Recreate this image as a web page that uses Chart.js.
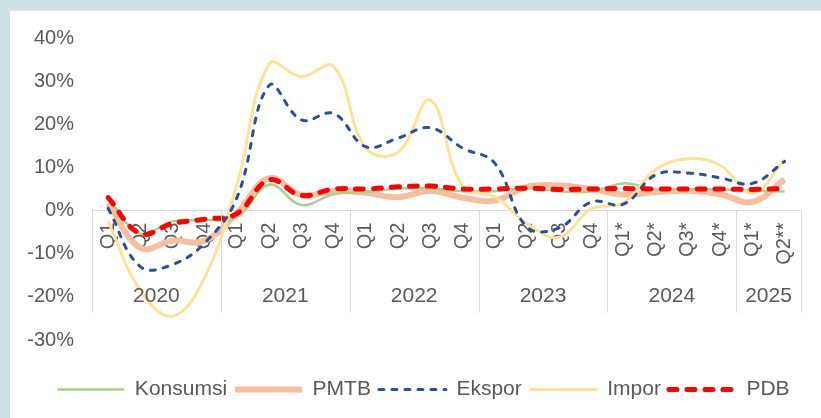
<!DOCTYPE html>
<html>
<head>
<meta charset="utf-8">
<script src="https://cdn.jsdelivr.net/npm/chart.js@4.4.1/dist/chart.umd.min.js"></script>
<style>
  html, body { margin: 0; padding: 0; }
  body { width: 821px; height: 418px; background: #cfe1e6; position: relative; overflow: hidden; }
  #panel { position: absolute; left: 10px; top: 10px; right: 0; bottom: 0; background: #fff; border-top: 1px solid #e2e6e8; }
  #chart { position: absolute; left: 0; top: 0; }
</style>
</head>
<body>
<div id="panel"></div>
<canvas id="chart" width="821" height="418"></canvas>
<script>
// quarter labels and the year groups under them
const quarters = ['Q1', 'Q2', 'Q3', 'Q4', 'Q1', 'Q2', 'Q3', 'Q4', 'Q1', 'Q2', 'Q3', 'Q4',
                  'Q1', 'Q2', 'Q3', 'Q4', 'Q1*', 'Q2*', 'Q3*', 'Q4*', 'Q1*', 'Q2**'];
const years = ['2020', '2021', '2022', '2023', '2024', '2025'];
const quartersPerYear = [4, 4, 4, 4, 4, 2];

// growth yoy (%)
const konsumsi = [2.8, -5.3, -2.5, -2.2, -1.5, 6.0, 1.3, 3.8, 4.3, 5.1, 5.2, 4.5,
                  4.5, 5.2, 4.5, 4.4, 6.3, 4.9, 4.9, 4.9, 4.6, 4.4];
const pmtb = [1.7, -8.6, -7.0, -7.0, -0.5, 7.5, 3.6, 4.5, 4.1, 3.1, 4.6, 3.0,
              2.3, 5.5, 5.8, 5.0, 3.7, 4.3, 4.6, 3.8, 2.0, 7.2];
const ekspor = [0.5, -13.0, -12.5, -7.5, 3.0, 29.0, 21.0, 22.5, 14.8, 16.8, 19.2, 14.5,
                11.0, -3.8, -4.0, 2.0, 1.5, 8.3, 8.7, 7.6, 6.3, 11.4];
const impor = [-2.5, -18.5, -24.5, -15.5, 6.0, 34.0, 31.0, 33.4, 14.5, 13.5, 25.6, 5.6,
               3.2, -3.0, -6.2, 0.4, 1.8, 9.5, 12.0, 10.5, 4.0, 11.8];
const pdb = [3.0, -5.3, -3.0, -2.0, -0.7, 7.1, 3.5, 5.0, 5.0, 5.5, 5.7, 5.0,
             5.0, 5.2, 4.9, 5.0, 5.1, 5.0, 5.0, 5.0, 4.9, 5.1];

const FONT = '"Liberation Sans", Arial, sans-serif';
const TEXT = '#595959';

// year labels + group dividers under the category axis
const yearGroups = {
    id: 'yearGroups',
    afterDraw(chart) {
        const ctx = chart.ctx;
        const xs = chart.scales.x;
        const y0 = chart.scales.y.getPixelForValue(0);
        const half = (xs.getPixelForValue(1) - xs.getPixelForValue(0)) / 2;
        ctx.save();
        ctx.strokeStyle = '#d9d9d9';
        ctx.lineWidth = 1;
        ctx.fillStyle = TEXT;
        ctx.font = '21px ' + FONT;
        ctx.textAlign = 'center';
        ctx.textBaseline = 'middle';
        let start = 0;
        years.forEach((yr, i) => {
            const n = quartersPerYear[i];
            const left = xs.getPixelForValue(start) - half;
            const right = xs.getPixelForValue(start + n - 1) + half;
            ctx.beginPath();
            ctx.moveTo(Math.round(left) + 0.5, y0);
            ctx.lineTo(Math.round(left) + 0.5, y0 + 102);
            if (i === years.length - 1) {
                ctx.moveTo(Math.round(right) + 0.5, y0);
                ctx.lineTo(Math.round(right) + 0.5, y0 + 102);
            }
            ctx.stroke();
            ctx.fillText(yr, (left + right) / 2, y0 + 86);
            start += n;
        });
        ctx.restore();
    }
};

function series(label, data, color, width, dash, cap, order) {
    return {
        label: label,
        data: data,
        borderColor: color,
        backgroundColor: color,
        borderWidth: width,
        borderDash: dash,
        borderCapStyle: cap,
        pointRadius: 0,
        tension: 0.4,
        fill: false,
        order: order
    };
}

new Chart(document.getElementById('chart'), {
    type: 'line',
    data: {
        labels: quarters,
        datasets: [
            series('Konsumsi', konsumsi, '#a9d18e', 2.5, [], 'butt', 4),
            series('PMTB', pmtb, '#f5bfa0', 6, [], 'butt', 5),
            series('Ekspor', ekspor, '#2f4f94', 3, [5, 8], 'round', 1),
            series('Impor', impor, '#fbe39c', 3, [], 'butt', 2),
            series('PDB', pdb, '#ff0000', 5, [8, 10], 'round', 0)
        ]
    },
    options: {
        responsive: false,
        animation: false,
        layout: { padding: { left: 26, right: 0, top: 38, bottom: 8 } },
        plugins: {
            tooltip: { enabled: false },
            legend: {
                position: 'bottom',
                title: { display: true, text: '', padding: 0, font: { size: 31, lineHeight: 1 } },
                labels: {
                    usePointStyle: true,
                    pointStyleWidth: 67,
                    padding: 8,
                    color: TEXT,
                    font: { family: FONT, size: 21 },
                    sort: (a, b) => a.datasetIndex - b.datasetIndex,
                    generateLabels(chart) {
                        const items = Chart.defaults.plugins.legend.labels.generateLabels(chart);
                        items.forEach(it => {
                            const ds = chart.data.datasets[it.datasetIndex];
                            it.pointStyle = 'line';
                            it.strokeStyle = ds.borderColor;
                            it.lineWidth = ds.borderWidth;
                            it.lineDash = ds.borderDash;
                            it.lineCap = ds.borderCapStyle;
                        });
                        return items;
                    }
                }
            }
        },
        scales: {
            x: {
                position: { y: 0 },
                offset: true,
                grid: { display: false, drawTicks: false },
                border: { display: true, color: '#d9d9d9', width: 1 },
                ticks: {
                    minRotation: 90,
                    maxRotation: 90,
                    autoSkip: false,
                    padding: 12,
                    color: TEXT,
                    font: { family: FONT, size: 20 }
                }
            },
            y: {
                min: -30,
                max: 40,
                grid: { display: false, drawTicks: false },
                border: { display: false },
                ticks: {
                    stepSize: 10,
                    padding: 18,
                    color: TEXT,
                    font: { family: FONT, size: 20 },
                    callback: v => v + '%'
                },
                // labels + one padding only, so the plot starts where the reference does
                afterFit(scale) { scale.width = 66; }
            },
            // empty right-hand margin so the plot ends where the reference does
            yRight: {
                position: 'right',
                grid: { display: false, drawTicks: false },
                border: { display: false },
                ticks: { display: false },
                afterFit(scale) { scale.width = 17; }
            }
        }
    },
    plugins: [yearGroups]
});
</script>
</body>
</html>
